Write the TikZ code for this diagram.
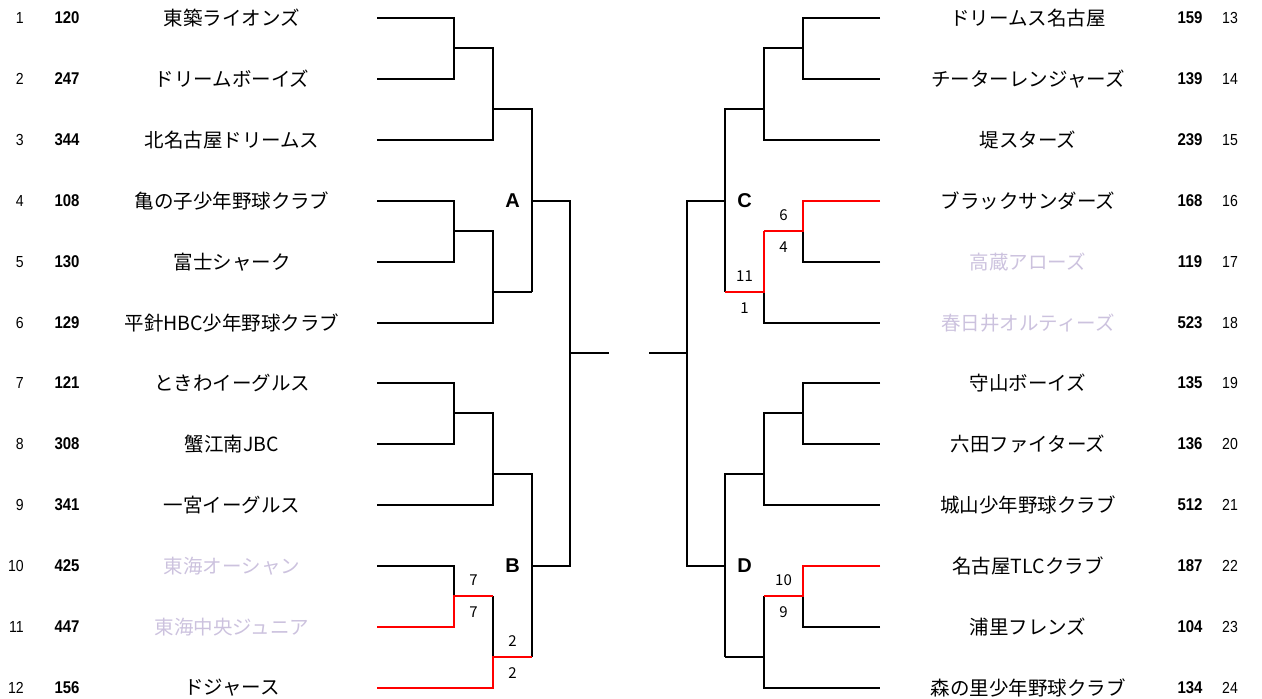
\documentclass[tikz,border=0pt]{standalone}
\usepackage{fontspec}
\setmainfont{Liberation Sans}
\newfontfamily\jpfont{Noto Sans CJK JP}
\newfontfamily\numfont[FakeStretch=0.88]{Liberation Sans}
\usetikzlibrary{calc}
\definecolor{grigio}{RGB}{204,194,222}

\begin{document}
\begin{tikzpicture}[x=1pt, y=-1pt,
        linea/.style={line width=2pt},
        vinta/.style={line width=2pt, red},
        squadra/.style={font=\jpfont\fontsize{19.5}{20}\selectfont, inner sep=0pt},
        punteggio/.style={font=\numfont\bfseries\fontsize{17}{17}\selectfont, inner sep=0pt},
        seme/.style={font=\numfont\fontsize{16}{16}\selectfont, inner sep=0pt},
        punti/.style={font=\jpfont\fontsize{15}{15}\selectfont, text=black, inner sep=0pt, text height=10.5pt, text depth=0pt},
        gruppo/.style={font=\bfseries\fontsize{20}{20}\selectfont, inner sep=0pt}]
    \useasboundingbox (0,0) rectangle (1262,699);

    % Colonne del tabellone
    \coordinate (l1) at (454,0);
    \coordinate (l2) at (493,0);
    \coordinate (l3) at (532,0);
    \coordinate (l4) at (570,0);
    \coordinate (r1) at (803,0);
    \coordinate (r2) at (764,0);
    \coordinate (r3) at (725,0);
    \coordinate (r4) at (687,0);
    \coordinate (cl) at (609,0);
    \coordinate (cr) at (649,0);

    % Squadre a sinistra
    \foreach \i/\p/\t/\c in {1/120/東築ライオンズ/black, 2/247/ドリームボーイズ/black,
        3/344/北名古屋ドリームス/black, 4/108/亀の子少年野球クラブ/black,
        5/130/富士シャーク/black, 6/129/平針HBC少年野球クラブ/black,
        7/121/ときわイーグルス/black, 8/308/蟹江南JBC/black,
        9/341/一宮イーグルス/black, 10/425/東海オーシャン/grigio,
        11/447/東海中央ジュニア/grigio, 12/156/ドジャース/black} {
        \pgfmathtruncatemacro\y{18.6+60.9*(\i-1)}
        \node[seme, anchor=east] (n\i) at (24,\y) {\i};
        \node[punteggio] (p\i) at (67,\y) {\p};
        \node[squadra, text=\c] (t\i) at (232,\y) {\t};
        \coordinate (e\i) at (377,\y);
        \coordinate (m\i) at (377,\y+30);
    }

    % Squadre a destra
    \foreach \i/\p/\t/\c in {13/159/ドリームス名古屋/black, 14/139/チーターレンジャーズ/black,
        15/239/堤スターズ/black, 16/168/ブラックサンダーズ/black,
        17/119/高蔵アローズ/grigio, 18/523/春日井オルティーズ/grigio,
        19/135/守山ボーイズ/black, 20/136/六田ファイターズ/black,
        21/512/城山少年野球クラブ/black, 22/187/名古屋TLCクラブ/black,
        23/104/浦里フレンズ/black, 24/134/森の里少年野球クラブ/black} {
        \pgfmathtruncatemacro\y{18.6+60.9*(\i-13)}
        \node[seme, anchor=west] (n\i) at (1222,\y) {\i};
        \node[punteggio] (p\i) at (1190,\y) {\p};
        \node[squadra, text=\c] (t\i) at (1028,\y) {\t};
        \coordinate (e\i) at (880,\y);
        \coordinate (m\i) at (880,\y+30);
    }

    % Gruppo A
    \draw[linea] (e1) -| (l1 |- e2) -- (e2);
    \draw[linea] (l1 |- m1) -| (l2 |- e3) -- (e3);
    \draw[linea] (l2 |- m2) -| (l3 |- m5);
    \draw[linea] (e4) -| (l1 |- e5) -- (e5);
    \draw[linea] (l1 |- m4) -| (l2 |- e6) -- (e6);
    \draw[linea] (l2 |- m5) -- (l3 |- m5);

    % Gruppo B
    \draw[linea] (e7) -| (l1 |- e8) -- (e8);
    \draw[linea] (l1 |- m7) -| (l2 |- e9) -- (e9);
    \draw[linea] (l2 |- m8) -| (l3 |- m11);
    \draw[linea] (e10) -| (l1 |- m10);
    \draw[linea] (l2 |- m10) -- (l2 |- m11);
    \draw[vinta] (e11) -| (l1 |- m10) -- node[punti, midway, above=9.5pt] {7} node[punti, midway, below=10pt] {7} (l2 |- m10);
    \draw[vinta] (e12) -| (l2 |- m11) -- node[punti, midway, above=9.5pt] {2} node[punti, midway, below=10pt] {2} (l3 |- m11);

    % Gruppo C
    \draw[linea] (e13) -| (r1 |- e14) -- (e14);
    \draw[linea] (r1 |- m13) -| (r2 |- e15) -- (e15);
    \draw[linea] (r2 |- m14) -| (r3 |- m17);
    \draw[linea] (e17) -| (r1 |- m16);
    \draw[linea] (r2 |- m17) |- (e18);
    \draw[vinta] (e16) -| (r1 |- m16) -- node[punti, midway, above=9.5pt] {6} node[punti, midway, below=10pt] {4} (r2 |- m16);
    \draw[vinta] (r2 |- m16) -- (r2 |- m17) -- node[punti, midway, above=9.5pt] {11} node[punti, midway, below=10pt] {1} (r3 |- m17);

    % Gruppo D
    \draw[linea] (e19) -| (r1 |- e20) -- (e20);
    \draw[linea] (r1 |- m19) -| (r2 |- e21) -- (e21);
    \draw[linea] (r2 |- m20) -| (r3 |- m23);
    \draw[linea] (e23) -| (r1 |- m22);
    \draw[linea] (r2 |- m22) |- (e24);
    \draw[linea] (r2 |- m23) -- (r3 |- m23);
    \draw[vinta] (e22) -| (r1 |- m22) -- node[punti, midway, above=9.5pt] {10} node[punti, midway, below=10pt] {9} (r2 |- m22);

    % Finale
    \draw[linea] (l3 |- e4) -| (l4 |- e10) -- (l3 |- e10);
    \draw[linea] (l4 |- m6) -- (cl |- m6);
    \draw[linea] (r3 |- e16) -| (r4 |- e22) -- (r3 |- e22);
    \draw[linea] (r4 |- m18) -- (cr |- m18);

    % Lettere dei gruppi
    \node[gruppo] (A) at (512.5,201) {A};
    \node[gruppo] (B) at (512.5,566) {B};
    \node[gruppo] (C) at (744.5,201) {C};
    \node[gruppo] (D) at (744.5,566) {D};
\end{tikzpicture}
\end{document}
